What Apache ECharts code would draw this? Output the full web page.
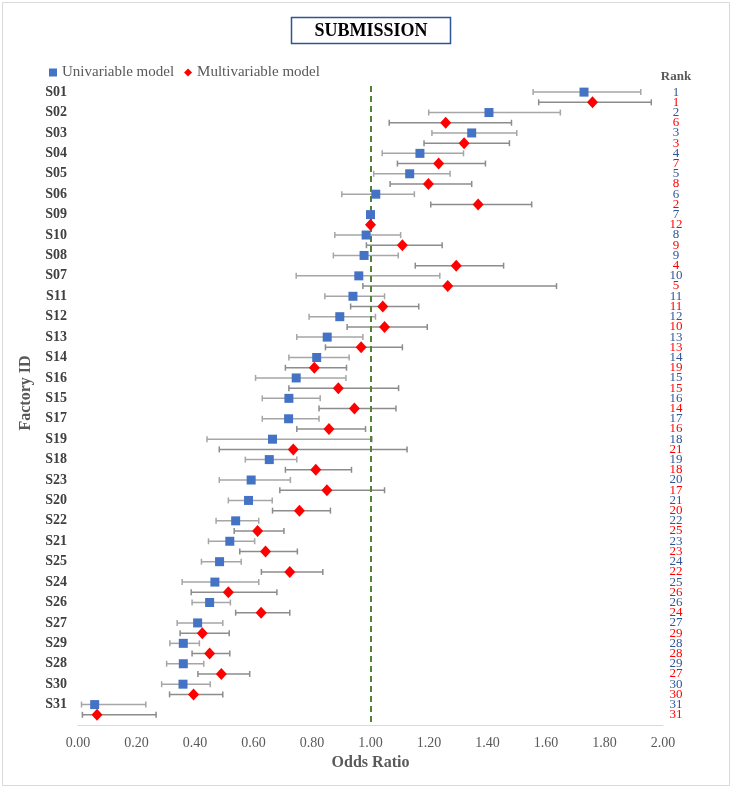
<!DOCTYPE html>
<html>
<head>
<meta charset="utf-8">
<script src="https://cdn.jsdelivr.net/npm/echarts@6/dist/echarts.min.js"></script>
<style>html,body{margin:0;padding:0;background:#fff}#c{width:733px;height:790px}</style>
</head>
<body>
<div id="c"></div>
<script>
const factories = ['S01','S02','S03','S04','S05','S06','S09','S10','S08','S07','S11','S12','S13','S14','S16','S15','S17','S19','S18','S23','S20','S22','S21','S25','S24','S26','S27','S29','S28','S30','S31'];
const uniOR   = [1.730,1.405,1.346,1.169,1.134,1.018,1.000,0.985,0.978,0.960,0.940,0.895,0.852,0.816,0.746,0.721,0.720,0.665,0.654,0.592,0.583,0.539,0.519,0.484,0.468,0.450,0.409,0.360,0.360,0.359,0.057];
const uniLow  = [1.556,1.199,1.210,1.040,1.011,0.902,null,0.878,0.873,0.746,0.844,0.790,0.748,0.721,0.607,0.630,0.630,0.441,0.572,0.483,0.514,0.472,0.446,0.422,0.356,0.390,0.339,0.314,0.303,0.286,0.012];
const uniHigh = [1.924,1.649,1.500,1.318,1.272,1.150,null,1.103,1.095,1.237,1.048,1.017,0.974,0.927,0.916,0.828,0.824,1.005,0.748,0.726,0.664,0.618,0.604,0.558,0.618,0.521,0.495,0.415,0.430,0.452,0.232];
const multiOR   = [1.759,1.257,1.320,1.233,1.198,1.368,1.000,1.109,1.293,1.264,1.042,1.048,0.968,0.808,0.890,0.945,0.858,0.736,0.813,0.851,0.757,0.614,0.641,0.724,0.514,0.626,0.425,0.450,0.490,0.395,0.065];
const multiLow  = [1.575,1.064,1.183,1.092,1.067,1.206,null,0.986,1.153,0.974,0.932,0.920,0.846,0.709,0.721,0.824,0.748,0.483,0.709,0.690,0.665,0.534,0.553,0.627,0.387,0.539,0.349,0.390,0.410,0.313,0.015];
const multiHigh = [1.960,1.482,1.475,1.393,1.346,1.551,null,1.245,1.455,1.636,1.165,1.194,1.109,0.918,1.096,1.087,0.983,1.125,0.935,1.048,0.863,0.704,0.750,0.837,0.680,0.724,0.517,0.519,0.587,0.495,0.267];
const uniRank   = [1,2,3,4,5,6,7,8,9,10,11,12,13,14,15,16,17,18,19,20,21,22,23,24,25,26,27,28,29,30,31];
const multiRank = [1,6,3,7,8,2,12,9,4,5,11,10,13,19,15,14,16,21,18,17,20,25,23,22,26,24,29,28,27,30,31];
const xTicks = [0,0.2,0.4,0.6,0.8,1.0,1.2,1.4,1.6,1.8,2.0];

const UNI_BLUE = '#4472C4', MULTI_RED = '#FF0000';
const SERIF = "'Liberation Serif','Times New Roman',serif";

const uniPts = uniOR.map((v,i)=>[v, 2*i]);
const multiPts = multiOR.map((v,i)=>[v, 2*i+1]);
const bars = [];
factories.forEach((f,i)=>{
  if (uniLow[i]!==null) bars.push({value:[uniLow[i], uniHigh[i], 2*i], itemStyle:{color:'#A6A6A6'}});
  if (multiLow[i]!==null) bars.push({value:[multiLow[i], multiHigh[i], 2*i+1], itemStyle:{color:'#8C8C8C'}});
});
const facLabels = factories.map((f,i)=>[0, 2*i, f]);
const rankLabels = [];
factories.forEach((f,i)=>{
  rankLabels.push([2, 2*i, String(uniRank[i]), 'u']);
  rankLabels.push([2, 2*i+1, String(multiRank[i]), 'm']);
});

const chart = echarts.init(document.getElementById('c'), null, {renderer:'canvas'});
chart.setOption({
  animation:false,
  backgroundColor:'#fff',
  grid:{left:78, right:70, top:86, bottom:65, containLabel:false},
  legend:{
    left:44, top:60, itemWidth:8, itemHeight:8, itemGap:10,
    textStyle:{fontFamily:SERIF, fontSize:15, color:'#595959'},
    data:[{name:'Univariable model', icon:'rect'},{name:'Multivariable model', icon:'diamond'}]
  },
  xAxis:{
    type:'value', min:xTicks[0], max:xTicks[xTicks.length-1], interval:0.2,
    axisLine:{show:true, onZero:false, lineStyle:{color:'#D9D9D9', width:1}},
    axisTick:{show:false}, splitLine:{show:false},
    axisLabel:{fontFamily:SERIF, fontSize:14, color:'#595959', margin:11,
      formatter:v=>v.toFixed(2)},
    name:'Odds Ratio', nameLocation:'middle', nameGap:30,
    nameTextStyle:{fontFamily:SERIF, fontSize:16, fontWeight:'bold', color:'#595959'}
  },
  yAxis:{type:'value', inverse:true, min:-0.6, max:62, show:false, splitLine:{show:false}},
  graphic:[
    {type:'rect', shape:{x:2.5,y:2.5,width:727,height:783}, style:{fill:'none', stroke:'#D9D9D9', lineWidth:1}, silent:true},
    {type:'rect', shape:{x:291.5,y:17.5,width:159,height:26}, style:{fill:'#fff', stroke:'#2F5597', lineWidth:1.5}},
    {type:'text', x:371, y:31, style:{text:'SUBMISSION', font:"bold 18px "+SERIF, fill:'#000', textAlign:'center', textVerticalAlign:'middle'}},
    {type:'text', x:26, y:393, rotation:Math.PI/2, style:{text:'Factory ID', font:"bold 16px "+SERIF, fill:'#595959', textAlign:'center', textVerticalAlign:'middle'}},
    {type:'text', x:676, y:77, style:{text:'Rank', font:"bold 13px "+SERIF, fill:'#595959', textAlign:'center', textVerticalAlign:'middle'}}
  ],
  series:[
    {
      type:'custom', name:'ci', silent:true, z:2,
      data:bars,
      renderItem:(params, api)=>{
        const a = api.coord([api.value(0), api.value(2)]);
        const b = api.coord([api.value(1), api.value(2)]);
        const col = api.visual('color');
        const st = {stroke:col, lineWidth:1.5};
        const c = 3;
        return {type:'group', children:[
          {type:'line', shape:{x1:a[0],y1:a[1],x2:b[0],y2:b[1]}, style:st},
          {type:'line', shape:{x1:a[0],y1:a[1]-c,x2:a[0],y2:a[1]+c}, style:st},
          {type:'line', shape:{x1:b[0],y1:b[1]-c,x2:b[0],y2:b[1]+c}, style:st}
        ]};
      },
      encode:{x:[0,1], y:2},
      markLine:{
        silent:true, symbol:'none', label:{show:false},
        lineStyle:{color:'#548235', type:[6,4], width:2},
        data:[{xAxis:1}]
      }
    },
    {type:'scatter', name:'Univariable model', data:uniPts, symbol:'rect', symbolSize:9,
      itemStyle:{color:UNI_BLUE, opacity:1}, z:5},
    {type:'scatter', name:'Multivariable model', data:multiPts, symbol:'diamond', symbolSize:[11,12],
      itemStyle:{color:MULTI_RED, opacity:1}, z:6},
    {
      type:'custom', name:'facLabels', silent:true,
      data:facLabels,
      encode:{x:0, y:1},
      renderItem:(params, api)=>{
        const p = api.coord([api.value(0), api.value(1)]);
        return {type:'text', x:p[0]-11, y:p[1], style:{text:facLabels[params.dataIndex][2], font:"bold 14px "+SERIF, fill:'#404040', textAlign:'right', textVerticalAlign:'middle'}};
      }
    },
    {
      type:'custom', name:'rankLabels', silent:true,
      data:rankLabels,
      encode:{x:0, y:1},
      renderItem:(params, api)=>{
        const p = api.coord([api.value(0), api.value(1)]);
        const r = rankLabels[params.dataIndex];
        return {type:'text', x:p[0]+13, y:p[1], style:{text:r[2], font:"13px "+SERIF, fill:r[3]==='u'?'#2F5597':'#FF0000', textAlign:'center', textVerticalAlign:'middle'}};
      }
    }
  ]
});
</script>
</body>
</html>
